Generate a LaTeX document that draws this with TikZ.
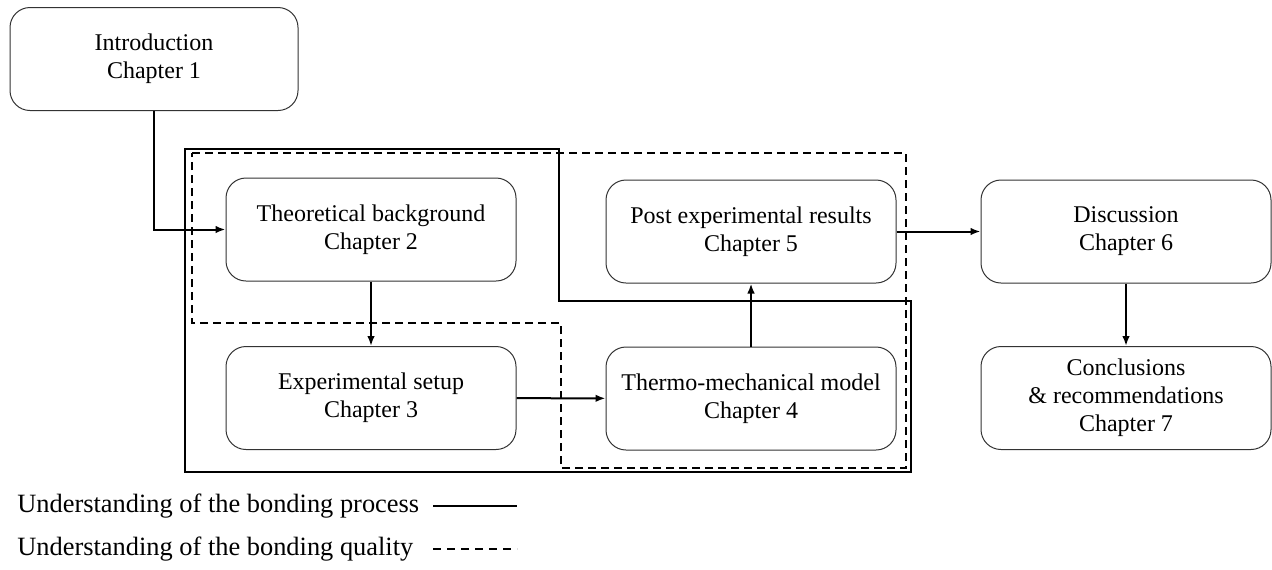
\documentclass[tikz,border=0pt]{standalone}
\usepackage{fontspec}
\setmainfont{Liberation Serif}
\usetikzlibrary{arrows.meta}

\tikzset{
    chapter/.style = {draw = black!80, line width = 0.5pt, rounded corners = 10pt,
                      minimum width = 145pt, minimum height = 51.5pt, align = center,
                      font = \fontsize{12}{14}\selectfont, inner sep = 0pt},
    flow/.style    = {-{Latex[length = 5pt, width = 3.8pt]}, line width = 1pt},
    legend/.style  = {anchor = west, inner sep = 0pt, font = \fontsize{13.2}{15}\selectfont}
}

\begin{document}
\begin{tikzpicture}[x = 0.5pt, y = -0.5pt]
    \useasboundingbox (0,0) rectangle (1272,569);

    % chapters
    \node[chapter, minimum width = 144pt] (intro) at (154, 59)    {Introduction\\Chapter 1};
    \node[chapter] (theory)     at (371, 229.5) {Theoretical background\\Chapter 2};
    \node[chapter] (experiment) at (371, 398)   {Experimental setup\\Chapter 3};
    \node[chapter] (model)      at (751, 398.5) {Thermo-mechanical model\\Chapter 4};
    \node[chapter] (results)    at (751, 231.5) {Post experimental results\\Chapter 5};
    \node[chapter] (discussion) at (1126, 231.5) {Discussion\\Chapter 6};
    \node[chapter] (conclusion) at (1126, 398)  {Conclusions\\\& recommendations\\Chapter 7};

    % process and quality frames
    \draw[line width = 1pt] (185,149) -- (559,149) -- (559,301) -- (911,301) -- (911,472) -- (185,472) -- cycle;
    \draw[line width = 0.8pt, dash pattern = on 4pt off 2.5pt]
        (192,153) -- (906,153) -- (906,468) -- (561,468) -- (561,323) -- (192,323) -- cycle;

    % flow
    \draw[flow] (intro.south) |- (theory.west);
    \draw[flow] (theory) -- (experiment);
    \draw[flow] (experiment) -- (model);
    \draw[flow] (model) -- (results);
    \draw[flow] (results) -- (discussion);
    \draw[flow] (discussion) -- (conclusion);

    % legend
    \node[legend] (process) at (17, 506) {Understanding of the bonding process};
    \node[legend] (quality) at (17, 549) {Understanding of the bonding quality};
    \coordinate (p1) at (433, 506);
    \coordinate (p2) at (517, 506);
    \coordinate (q1) at (433, 549);
    \coordinate (q2) at (517, 549);
    \draw[line width = 1pt] (p1) -- (p2);
    \draw[line width = 0.8pt, dash pattern = on 4pt off 3pt] (q1) -- (q2);
\end{tikzpicture}
\end{document}
